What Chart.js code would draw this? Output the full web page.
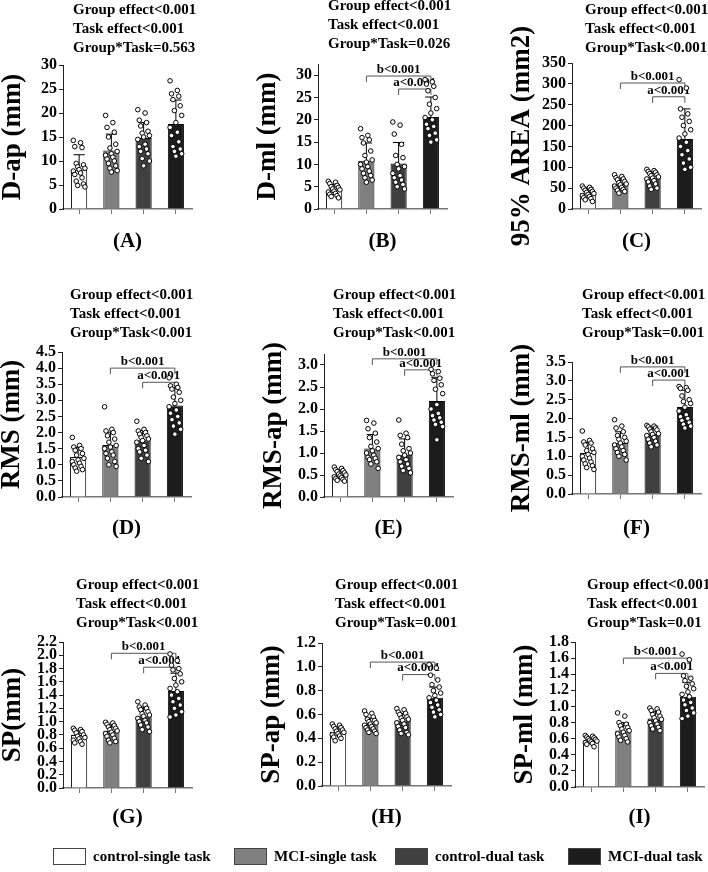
<!DOCTYPE html>
<html>
<head>
<meta charset="utf-8">
<script src="https://cdn.jsdelivr.net/npm/chart.js@4.4.1/dist/chart.umd.min.js"></script>
<style>
  body { margin: 0; width: 708px; height: 872px; overflow: hidden; position: relative; background: #fff;
         font-family: 'Liberation Serif', 'Times New Roman', serif; font-weight: bold; color: #000; }
  canvas { position: absolute; }
  .stats { position: absolute; font-size: 15px; line-height: 19px; white-space: nowrap; }
  .plabel { position: absolute; font-size: 21px; width: 80px; text-align: center; line-height: 21px; }
  .lbox { position: absolute; width: 33px; height: 17px; border: 1px solid #444; box-sizing: border-box; }
  .ltext { position: absolute; font-size: 15px; line-height: 17px; white-space: nowrap; }
</style>
</head>
<body>
<script>
// Groups and colours
const groups = ['control-single task', 'MCI-single task', 'control-dual task', 'MCI-dual task'];
const barColors = ['#ffffff', '#808080', '#404040', '#1c1c1c'];

// Panel texts
const panelNames = ['(A)', '(B)', '(C)', '(D)', '(E)', '(F)', '(G)', '(H)', '(I)'];
const yTitles = ['D-ap (mm)', 'D-ml (mm)', '95% AREA (mm2)', 'RMS (mm)', 'RMS-ap (mm)', 'RMS-ml (mm)',
                 'SP(mm)', 'SP-ap (mm)', 'SP-ml (mm)'];
const groupEffect = ['<0.001', '<0.001', '<0.001', '<0.001', '<0.001', '<0.001', '<0.001', '<0.001', '<0.001'];
const taskEffect = ['<0.001', '<0.001', '<0.001', '<0.001', '<0.001', '<0.001', '<0.001', '<0.001', '<0.001'];
const interaction = ['=0.563', '=0.026', '<0.001', '<0.001', '<0.001', '=0.001', '<0.001', '=0.001', '=0.01'];

// Y axes
const yMax = [30, 32.5, 350, 4.5, 3.25, 3.5, 2.2, 1.2, 1.8];
const yTickMax = [30, 30, 350, 4.5, 3.0, 3.5, 2.2, 1.2, 1.8];
const yStep = [5, 5, 50, 0.5, 0.5, 0.5, 0.2, 0.2, 0.2];
const yDecimals = [0, 0, 0, 1, 1, 1, 1, 1, 1];

// Post-hoc brackets (b: MCI-single vs MCI-dual, a: control-dual vs MCI-dual)
const bracketB = [null, 29.8, 302, 4.0, 3.14, 3.37, 2.03, 1.04, 1.6];
const bracketA = [null, 26.9, 269, 3.56, 2.89, 3.02, 1.82, 0.935, 1.41];

// Means and SD
const dapMean = [8.2, 12.2, 14.8, 17.7];      const dapSd = [3.1, 3.4, 3.2, 5.0];
const dmlMean = [4.2, 10.8, 10.2, 20.6];      const dmlSd = [1.3, 4.0, 4.7, 4.5];
const areaMean = [38, 60, 75, 168];           const areaSd = [14, 12, 15, 72];
const rmsMean = [1.24, 1.61, 1.76, 2.84];     const rmsSd = [0.3, 0.4, 0.3, 0.55];
const rmsApMean = [0.5, 1.1, 0.96, 2.18];     const rmsApSd = [0.1, 0.32, 0.36, 0.54];
const rmsMlMean = [1.09, 1.35, 1.6, 2.31];    const rmsMlSd = [0.28, 0.3, 0.2, 0.44];
const spMean = [0.8, 0.86, 1.08, 1.46];       const spSd = [0.07, 0.09, 0.14, 0.27];
const spApMean = [0.455, 0.52, 0.55, 0.74];   const spApSd = [0.04, 0.05, 0.06, 0.09];
const spMlMean = [0.58, 0.7, 0.85, 1.12];     const spMlSd = [0.04, 0.1, 0.09, 0.18];

// Individual subjects
const dapPts = [
  [14.3, 13.8, 13.0, 12.8, 9.5, 9.2, 8.8, 8.5, 8.2, 7.9, 7.5, 7.2, 6.5, 5.8, 5.2, 4.9, 4.6],
  [19.5, 18.0, 17.0, 16.0, 15.0, 13.5, 12.7, 12.0, 11.5, 11.2, 10.8, 10.4, 10.0, 9.5, 9.0, 8.5, 8.0, 7.7],
  [20.7, 20.0, 18.5, 18.0, 17.3, 16.2, 15.8, 15.3, 15.0, 14.5, 13.5, 13.0, 12.5, 12.0, 11.5, 10.5, 10.0, 9.0],
  [26.7, 24.7, 24.0, 23.5, 22.8, 21.5, 20.5, 19.5, 18.0, 17.0, 16.0, 15.3, 14.0, 13.0, 12.5, 12.0, 11.5, 11.0]
];
const dmlPts = [
  [6.2, 6.0, 5.7, 5.3, 5.0, 4.8, 4.5, 4.3, 4.0, 3.8, 3.5, 3.3, 3.0, 2.8, 2.5],
  [18.0, 16.5, 16.0, 15.5, 14.8, 13.0, 12.0, 11.0, 10.5, 10.0, 9.5, 9.0, 8.5, 8.0, 7.5, 7.0, 6.5, 6.0],
  [19.5, 18.8, 16.8, 14.5, 12.0, 11.5, 10.0, 9.5, 9.0, 8.0, 7.5, 7.0, 6.5, 6.0, 5.5, 5.0, 4.5],
  [29.0, 28.5, 28.0, 27.5, 26.5, 25.0, 23.5, 22.5, 21.5, 20.5, 20.0, 19.0, 18.5, 18.0, 17.0, 16.5, 15.5, 15.0]
];
const areaPts = [
  [55, 52, 50, 47, 45, 42, 40, 37, 35, 32, 30, 27, 25, 22, 18],
  [82, 78, 75, 72, 70, 66, 63, 60, 58, 55, 52, 50, 47, 45, 42, 38],
  [95, 92, 90, 88, 85, 82, 80, 77, 74, 72, 68, 65, 60, 55, 50, 47],
  [310, 290, 240, 228, 220, 210, 200, 190, 180, 170, 160, 150, 140, 130, 120, 110, 100, 95]
];
const rmsPts = [
  [1.85, 1.6, 1.55, 1.5, 1.45, 1.35, 1.3, 1.2, 1.15, 1.1, 1.05, 1.0, 0.95, 0.9, 0.85, 0.8],
  [2.8, 2.1, 2.05, 2.0, 1.9, 1.8, 1.7, 1.6, 1.55, 1.5, 1.4, 1.35, 1.3, 1.2, 1.1, 1.0, 0.95],
  [2.35, 2.1, 2.05, 2.0, 1.95, 1.9, 1.85, 1.8, 1.75, 1.7, 1.6, 1.5, 1.45, 1.4, 1.3, 1.2, 1.1],
  [3.7, 3.5, 3.45, 3.4, 3.35, 3.25, 3.1, 3.0, 2.9, 2.8, 2.7, 2.6, 2.5, 2.4, 2.3, 2.2, 2.1, 1.95]
];
const rmsApPts = [
  [0.68, 0.65, 0.62, 0.6, 0.58, 0.55, 0.52, 0.5, 0.48, 0.46, 0.44, 0.42, 0.4, 0.38, 0.36],
  [1.74, 1.68, 1.55, 1.45, 1.35, 1.25, 1.15, 1.1, 1.05, 1.0, 0.95, 0.9, 0.88, 0.85, 0.8, 0.75, 0.65],
  [1.75, 1.45, 1.4, 1.35, 1.2, 1.1, 1.05, 1.0, 0.95, 0.9, 0.85, 0.8, 0.75, 0.7, 0.65, 0.6, 0.55],
  [2.9, 2.85, 2.8, 2.7, 2.65, 2.55, 2.45, 2.35, 2.1, 2.0, 1.9, 1.85, 1.8, 1.75, 1.7, 1.65, 1.6, 1.3]
];
const rmsMlPts = [
  [1.67, 1.42, 1.38, 1.35, 1.3, 1.2, 1.15, 1.1, 1.05, 1.0, 0.95, 0.9, 0.85, 0.8, 0.75, 0.7, 0.65],
  [1.97, 1.8, 1.75, 1.65, 1.55, 1.5, 1.45, 1.4, 1.35, 1.3, 1.25, 1.2, 1.15, 1.1, 1.05, 1.0, 0.9],
  [1.82, 1.8, 1.78, 1.75, 1.72, 1.7, 1.65, 1.6, 1.58, 1.55, 1.5, 1.45, 1.4, 1.35, 1.3, 1.25],
  [2.85, 2.82, 2.8, 2.75, 2.6, 2.5, 2.45, 2.4, 2.3, 2.2, 2.1, 2.05, 2.0, 1.95, 1.9, 1.85, 1.8, 1.75]
];
const spPts = [
  [0.9, 0.88, 0.87, 0.85, 0.83, 0.8, 0.78, 0.76, 0.74, 0.72, 0.7, 0.68, 0.66],
  [0.99, 0.98, 0.96, 0.94, 0.92, 0.9, 0.88, 0.86, 0.84, 0.82, 0.8, 0.78, 0.75, 0.72, 0.7, 0.68],
  [1.3, 1.25, 1.22, 1.2, 1.18, 1.15, 1.12, 1.1, 1.08, 1.05, 1.02, 1.0, 0.98, 0.95, 0.92, 0.88, 0.85],
  [2.02, 1.92, 1.85, 1.8, 1.78, 1.72, 1.65, 1.6, 1.55, 1.5, 1.45, 1.4, 1.35, 1.3, 1.25, 1.2, 1.15, 1.1, 1.07]
];
const spApPts = [
  [0.52, 0.51, 0.5, 0.49, 0.48, 0.47, 0.46, 0.45, 0.44, 0.43, 0.42, 0.41, 0.4, 0.38],
  [0.63, 0.61, 0.6, 0.58, 0.56, 0.55, 0.54, 0.53, 0.52, 0.51, 0.5, 0.49, 0.48, 0.47, 0.46, 0.45, 0.44],
  [0.65, 0.64, 0.62, 0.61, 0.6, 0.58, 0.57, 0.56, 0.55, 0.53, 0.52, 0.5, 0.49, 0.47, 0.45, 0.44, 0.43],
  [1.02, 0.99, 0.93, 0.89, 0.85, 0.83, 0.8, 0.78, 0.76, 0.74, 0.72, 0.7, 0.68, 0.66, 0.64, 0.62, 0.6, 0.58]
];
const spMlPts = [
  [0.64, 0.63, 0.62, 0.61, 0.6, 0.59, 0.58, 0.57, 0.56, 0.55, 0.54, 0.53, 0.5],
  [0.92, 0.88, 0.8, 0.78, 0.76, 0.74, 0.72, 0.7, 0.68, 0.66, 0.64, 0.62, 0.6, 0.58, 0.56],
  [0.98, 0.97, 0.95, 0.93, 0.9, 0.88, 0.86, 0.84, 0.82, 0.8, 0.78, 0.76, 0.74, 0.72, 0.7],
  [1.65, 1.58, 1.38, 1.35, 1.32, 1.28, 1.25, 1.22, 1.18, 1.15, 1.12, 1.08, 1.05, 1.02, 0.98, 0.95, 0.92, 0.88, 0.85]
];

const means = [dapMean, dmlMean, areaMean, rmsMean, rmsApMean, rmsMlMean, spMean, spApMean, spMlMean];
const sds = [dapSd, dmlSd, areaSd, rmsSd, rmsApSd, rmsMlSd, spSd, spApSd, spMlSd];
const points = [dapPts, dmlPts, areaPts, rmsPts, rmsApPts, rmsMlPts, spPts, spApPts, spMlPts];

// Page layout: y-axis x position, plot top and plot bottom of each panel
const boxes = [
  { x: 63, top: 65, bottom: 209 }, { x: 318, top: 64, bottom: 209 }, { x: 572, top: 63, bottom: 209 },
  { x: 62, top: 352, bottom: 497 }, { x: 324, top: 354, bottom: 497 }, { x: 572, top: 362, bottom: 494 },
  { x: 63, top: 642, bottom: 788 }, { x: 322, top: 643, bottom: 786 }, { x: 575, top: 642, bottom: 787 }
];
const statsPos = [
  { x: 73, y: 0 }, { x: 328, y: -4 }, { x: 585, y: 0 },
  { x: 70, y: 285 }, { x: 333, y: 285 }, { x: 582, y: 285 },
  { x: 76, y: 575 }, { x: 335, y: 575 }, { x: 587, y: 575 }
];
const labelY = [240, 240, 240, 527, 527, 527, 816, 816, 816];
const plotW = 129, axisW = 66, padTop = 48, padBottom = 48, axisH = 14;

Chart.defaults.font.family = "'Liberation Serif', 'Times New Roman', serif";
Chart.defaults.font.weight = 'bold';
Chart.defaults.color = '#000';

// jitter across the bar so points don't stack
function jitter(k) {
  return ((k * 5) % 9 - 4) * 0.045;
}

function addDiv(cls, html, left, top) {
  const d = document.createElement('div');
  d.className = cls;
  d.innerHTML = html;
  d.style.left = left + 'px';
  d.style.top = top + 'px';
  document.body.appendChild(d);
  return d;
}

function makePanel(i) {
  const b = boxes[i];
  const canvas = document.createElement('canvas');
  canvas.width = axisW + plotW + 6;
  canvas.height = (b.bottom - b.top) + padTop + axisH + padBottom;
  canvas.style.left = (b.x - axisW) + 'px';
  canvas.style.top = (b.top - padTop) + 'px';
  document.body.appendChild(canvas);

  const scatter = [];
  points[i].forEach((arr, g) => arr.forEach((v, k) => scatter.push({ x: g + jitter(k), y: v })));

  // error bars (mean + SD) drawn right after the bars
  const errorBars = {
    id: 'errorBars',
    afterDatasetDraw(chart, args) {
      if (args.meta.type !== 'bar') return;
      const ctx = chart.ctx, y = chart.scales.y;
      ctx.save();
      ctx.strokeStyle = '#000';
      ctx.lineWidth = 1;
      args.meta.data.forEach((bar, k) => {
        const top = y.getPixelForValue(means[i][k] + sds[i][k]);
        const cap = bar.width * 0.35;
        ctx.beginPath();
        ctx.moveTo(bar.x, bar.y);
        ctx.lineTo(bar.x, top);
        ctx.moveTo(bar.x - cap, top);
        ctx.lineTo(bar.x + cap, top);
        ctx.stroke();
      });
      ctx.restore();
    }
  };

  // significance brackets
  const brackets = {
    id: 'brackets',
    beforeDatasetsDraw(chart) {
      const ctx = chart.ctx, x = chart.scales.x, y = chart.scales.y;
      [[1, bracketB[i], 'b<0.001'], [2, bracketA[i], 'a<0.001']].forEach(([from, val, text]) => {
        if (val == null) return;
        const x1 = x.getPixelForValue(from), x2 = x.getPixelForValue(3), yy = y.getPixelForValue(val);
        ctx.save();
        ctx.strokeStyle = '#555';
        ctx.lineWidth = 1;
        ctx.beginPath();
        ctx.moveTo(x1, yy + 6);
        ctx.lineTo(x1, yy);
        ctx.lineTo(x2, yy);
        ctx.lineTo(x2, yy + 6);
        ctx.stroke();
        ctx.fillStyle = '#000';
        ctx.font = "bold 13px 'Liberation Serif', serif";
        ctx.textAlign = 'center';
        ctx.textBaseline = 'bottom';
        ctx.fillText(text, (x1 + x2) / 2, yy);
        ctx.restore();
      });
    }
  };

  new Chart(canvas, {
    data: {
      labels: groups,
      datasets: [
        { type: 'bar', data: means[i], backgroundColor: barColors, borderColor: '#000', borderWidth: 1,
          grouped: false, barPercentage: 0.5, categoryPercentage: 1, order: 2, xAxisID: 'x' },
        { type: 'scatter', data: scatter, xAxisID: 'xs', order: 1, pointRadius: 2.3,
          pointBackgroundColor: '#fff', pointBorderColor: '#000', pointBorderWidth: 1 }
      ]
    },
    options: {
      responsive: false,
      animation: false,
      layout: { padding: { top: padTop, right: 6, left: 0, bottom: padBottom } },
      plugins: { legend: { display: false }, tooltip: { enabled: false } },
      scales: {
        x: {
          type: 'category', offset: true,
          grid: { drawOnChartArea: false, offset: false, tickLength: 5, color: '#777' },
          border: { color: '#777', width: 1.5 },
          ticks: { display: false },
          afterFit: s => { s.height = axisH; }
        },
        xs: { type: 'linear', min: -0.5, max: 3.5, display: false },
        y: {
          min: 0, max: yMax[i],
          grid: { drawOnChartArea: false, tickLength: 4, color: '#222' },
          border: { color: '#222', width: 1 },
          ticks: { autoSkip: false, padding: 2, font: { size: 16, weight: 'bold', lineHeight: 1 },
                   callback: v => v.toFixed(yDecimals[i]) },
          title: { display: true, text: yTitles[i], font: { size: 27, weight: 'bold' }, padding: 0 },
          afterBuildTicks: s => {
            const t = [];
            for (let v = 0; v <= yTickMax[i] + 1e-9; v += yStep[i]) t.push({ value: +v.toFixed(4) });
            s.ticks = t;
          },
          afterFit: s => { s.width = axisW; }
        }
      }
    },
    plugins: [errorBars, brackets]
  });

  // ANOVA results above the plot
  const p = statsPos[i];
  addDiv('stats', 'Group effect' + groupEffect[i].replace('<', '&lt;') + '<br>Task effect' +
         taskEffect[i].replace('<', '&lt;') + '<br>Group*Task' + interaction[i].replace('<', '&lt;'), p.x, p.y);
  addDiv('plabel', panelNames[i], b.x + plotW / 2 - 40, labelY[i] - 10);
}

for (let i = 0; i < 9; i++) makePanel(i);

// Shared legend
const legendX = [53, 234, 395, 568];
groups.forEach((g, k) => {
  const box = addDiv('lbox', '', legendX[k], 848);
  box.style.background = barColors[k];
  addDiv('ltext', g, legendX[k] + 40, 848);
});
</script>
</body>
</html>
